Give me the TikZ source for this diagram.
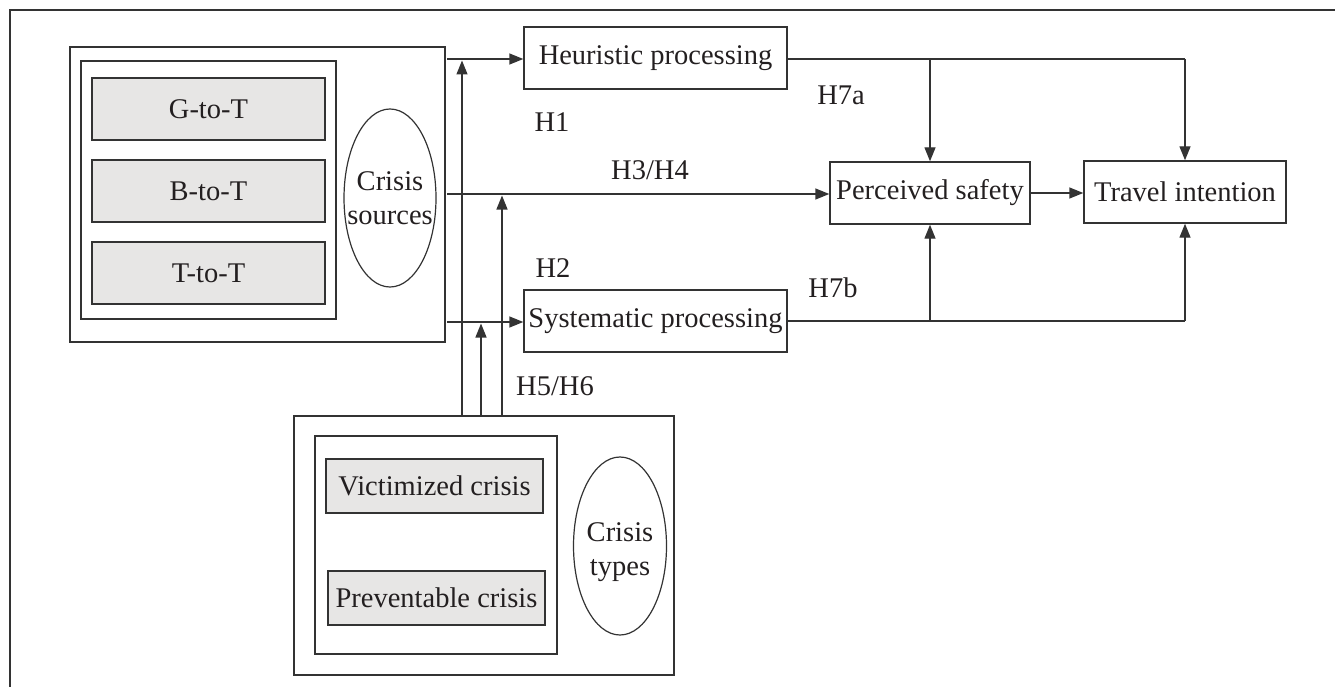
\documentclass[tikz,border=0pt]{standalone}
\usepackage{fontspec}
\setmainfont{Liberation Serif}
\usetikzlibrary{arrows.meta,shapes.geometric}
\definecolor{ln}{HTML}{333333}
\definecolor{tx}{HTML}{231F20}
\definecolor{fillg}{HTML}{E7E6E5}
\tikzset{
  box/.style={draw=ln, line width=1.4pt, inner sep=0pt, text=tx, font=\fontsize{28.5}{34}\selectfont},
  grbox/.style={box, fill=fillg},
  ell/.style={ellipse, draw=ln, line width=1.2pt, inner sep=0pt},
  lab/.style={inner sep=0pt, text=tx, align=center, font=\fontsize{28.5}{34}\selectfont},
  conn/.style={draw=ln, line width=1.4pt},
  arr/.style={conn, -{Triangle[length=14pt,width=11pt]}},
}
\begin{document}
\begin{tikzpicture}[x=1pt,y=-1pt]
\useasboundingbox (0,0) rectangle (1335,687);
% frame (cropped)
\draw[line width=1.6pt, draw=black!80] (1335,10) -- (10,10) -- (10,687);

% crisis sources group
\node[box, minimum width=375pt, minimum height=295pt] (srcOuter) at (257.5,194.5) {};
\node[box, minimum width=255pt, minimum height=258pt] (srcInner) at (208.5,190) {};
\node[grbox, minimum width=233pt, minimum height=62pt] (gt) at (208.5,109) {G-to-T};
\node[grbox, minimum width=233pt, minimum height=62pt] (bt) at (208.5,191) {B-to-T};
\node[grbox, minimum width=233pt, minimum height=62pt] (tt) at (208.5,273) {T-to-T};
\node[ell, minimum width=92pt, minimum height=178pt] (srcEll) at (390,198) {};
\node[lab] (srcTxt) at (srcEll.center) {Crisis\\sources};

% processing and outcome boxes
\node[box, minimum width=263pt, minimum height=62pt] (heur) at (655.5,58) {Heuristic processing};
\node[box, minimum width=263pt, minimum height=62pt] (syst) at (655.5,321) {Systematic processing};
\node[box, minimum width=200pt, minimum height=62pt] (perc) at (930,193) {Perceived safety};
\node[box, minimum width=202pt, minimum height=62pt] (trav) at (1185,192) {Travel intention};

% crisis types group
\node[box, minimum width=380pt, minimum height=259pt] (typOuter) at (484,545.5) {};
\node[box, minimum width=242pt, minimum height=218pt] (typInner) at (436,545) {};
\node[grbox, minimum width=217pt, minimum height=54pt] (vic) at (434.5,486) {Victimized crisis};
\node[grbox, minimum width=217pt, minimum height=54pt] (prev) at (436.5,598) {Preventable crisis};
\node[ell, minimum width=93pt, minimum height=178pt] (typEll) at (620,546) {};
\node[lab] (typTxt) at ([yshift=-6pt]typEll.center) {Crisis\\types};

% labels
\node[lab] (h1) at (552,122) {H1};
\node[lab] (h34) at (650,170) {H3/H4};
\node[lab] (h2) at (553,268) {H2};
\node[lab] (h7a) at (841,95) {H7a};
\node[lab] (h7b) at (833,288) {H7b};
\node[lab] (h56) at (555,386) {H5/H6};

% coordinates
\coordinate (sA) at (447,59);
\coordinate (sB) at (447,194);
\coordinate (sC) at (447,322);
\coordinate (v1top) at (462,60.5);
\coordinate (v2top) at (481,323.5);
\coordinate (v3top) at (502,195.5);
\coordinate (hT) at (1185,59);
\coordinate (hB) at (930,59);
\coordinate (sT) at (1185,321);
\coordinate (sBr) at (930,321);

% connectors from crisis sources
\draw[arr] (sA) -- (heur.west |- sA);
\draw[arr] (sB) -- (perc.west |- sB);
\draw[arr] (sC) -- (syst.west |- sC);

% moderating arrows from crisis types
\draw[arr] (typOuter.north -| v1top) -- (v1top);
\draw[arr] (typOuter.north -| v2top) -- (v2top);
\draw[arr] (typOuter.north -| v3top) -- (v3top);

% heuristic to outcomes
\draw[conn] (heur.east |- hT) -- (hT);
\draw[arr] (hT) -- (trav.north);
\draw[arr] (hB) -- (perc.north -| hB);

% systematic to outcomes
\draw[conn] (syst.east |- sT) -- (sT);
\draw[arr] (sT) -- (trav.south);
\draw[arr] (sBr) -- (perc.south -| sBr);

% perceived safety to travel intention
\draw[arr] (perc.east) -- (trav.west |- perc.east);
\end{tikzpicture}
\end{document}
